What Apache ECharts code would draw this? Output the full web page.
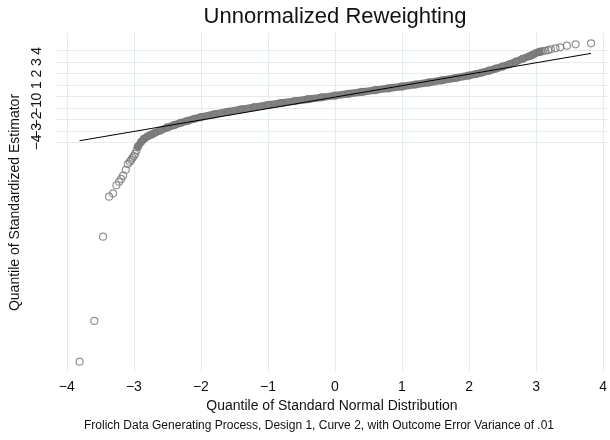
<!DOCTYPE html>
<html><head><meta charset="utf-8">
<script src="https://cdn.jsdelivr.net/npm/echarts@6/dist/echarts.min.js"></script>
<style>html,body{margin:0;padding:0;background:#fff}#c{width:610px;height:440px}</style>
</head><body><div id="c"></div>
<script>
const titleText = 'Unnormalized Reweighting';
const xName = 'Quantile of Standard Normal Distribution';
const yName = 'Quantile of Standardized Estimator';
const caption = 'Frolich Data Generating Process, Design 1, Curve 2, with Outcome Error Variance of .01';
const xTicks = [-4, -3, -2, -1, 0, 1, 2, 3, 4];
const yTicks = [-4, -3, -2, -1, 0, 1, 2, 3, 4];

// dense central band of the Q-Q plot (normal quantile, standardized estimator quantile)
const bandQ = [-2.94,-2.89,-2.85,-2.80,-2.75,-2.70,-2.60,-2.50,-2.40,-2.30,-2.20,-2.10,-2.00,-1.80,-1.60,-1.40,-1.20,-1.00,-0.80,-0.60,-0.40,-0.20,0.00,0.20,0.40,0.60,0.80,1.00,1.20,1.40,1.60,1.80,2.00,2.10,2.20,2.30,2.40,2.50,2.60,2.70,2.80,2.90,2.95,3.00,3.05];
const bandV = [-4.38,-3.95,-3.70,-3.50,-3.35,-3.21,-2.95,-2.70,-2.50,-2.30,-2.12,-1.95,-1.80,-1.55,-1.33,-1.12,-0.92,-0.74,-0.57,-0.40,-0.23,-0.07,0.08,0.24,0.40,0.56,0.72,0.88,1.05,1.23,1.42,1.62,1.84,1.96,2.10,2.26,2.44,2.62,2.82,3.05,3.30,3.52,3.65,3.80,3.90];
// separate points in the tails
const leftTailQ = [-2.96,-2.98,-3.00,-3.02,-3.04,-3.06,-3.09,-3.12,-3.16,-3.19,-3.22,-3.26,-3.31,-3.37,-3.46,-3.59,-3.81];
const leftTailV = [-4.70,-5.00,-5.20,-5.35,-5.55,-5.70,-5.90,-6.40,-6.90,-7.20,-7.45,-7.75,-8.45,-8.75,-12.24,-19.60,-23.16];
const rightTailQ = [3.07,3.10,3.14,3.18,3.22,3.29,3.36,3.46,3.59,3.82];
const rightTailV = [3.93,3.97,4.00,4.06,4.12,4.21,4.30,4.44,4.56,4.65];
// reference line
const refQ = [-3.81, 3.82];
const refV = [-3.86, 3.77];

const FONT = 'Liberation Sans, Arial, sans-serif';
const GRID = '#e4ecec';
const GRAY = '#777777';
const fmt = v => (v < 0 ? '\u2212' + Math.abs(v) : String(v));
const zip = (a, b) => a.map((x, i) => [x, b[i]]);

const band = zip(bandQ, bandV);
const points = band.concat(zip(leftTailQ, leftTailV), zip(rightTailQ, rightTailV));

// an empty placeholder label far below keeps ECharts from dropping the crowded -4/-3 labels
const yLabelValues = [-20].concat(yTicks);
const yFmt = v => (yTicks.indexOf(v) >= 0 ? fmt(v) : '');

const chart = echarts.init(document.getElementById('c'), null, {renderer: 'canvas'});
chart.setOption({
  animation: false,
  backgroundColor: '#fff',
  textStyle: {fontFamily: FONT},
  grid: {left: 55, right: 0, top: 33, bottom: 68, containLabel: false},
  xAxis: {
    type: 'value', min: -4.163, max: 4.074,
    name: xName, nameLocation: 'middle', nameGap: 27,
    nameTextStyle: {fontSize: 14, color: '#111', fontFamily: FONT},
    axisLine: {show: false},
    axisTick: {show: false, customValues: xTicks},
    axisLabel: {customValues: xTicks, formatter: fmt, fontSize: 14, color: '#111', margin: 8, fontFamily: FONT, hideOverlap: false},
    splitLine: {show: true, lineStyle: {color: GRID, width: 1}}
  },
  yAxis: {
    type: 'value', min: -24.06, max: 5.55,
    name: yName, nameLocation: 'middle', nameGap: 24, nameRotate: 90,
    nameTextStyle: {fontSize: 14, color: '#111', fontFamily: FONT},
    axisLine: {show: false},
    axisTick: {show: false, customValues: yTicks},
    axisLabel: {customValues: yLabelValues, formatter: yFmt, rotate: 90, fontSize: 14, color: '#111', margin: 12, fontFamily: FONT, hideOverlap: false},
    splitLine: {show: true, lineStyle: {color: GRID, width: 1}}
  },
  graphic: [
    {type: 'text', style: {x: 335, y: 17, text: titleText, textAlign: 'center', textVerticalAlign: 'middle', font: '22px ' + FONT, fill: '#111'}},
    {type: 'text', style: {x: 319, y: 426, text: caption, textAlign: 'center', textVerticalAlign: 'middle', font: '12px ' + FONT, fill: '#111'}}
  ],
  series: [
    {type: 'line', data: band, showSymbol: false, symbol: 'none', lineStyle: {color: '#808080', width: 7.5, cap: 'round', join: 'round'}, z: 2, silent: true},
    {type: 'scatter', data: points, symbol: 'circle', symbolSize: 7, itemStyle: {color: 'rgba(0,0,0,0)', borderColor: GRAY, borderWidth: 1.2}, z: 3},
    {type: 'line', data: zip(refQ, refV), showSymbol: false, symbol: 'none', lineStyle: {color: '#000', width: 1}, z: 4}
  ]
});
</script></body></html>
